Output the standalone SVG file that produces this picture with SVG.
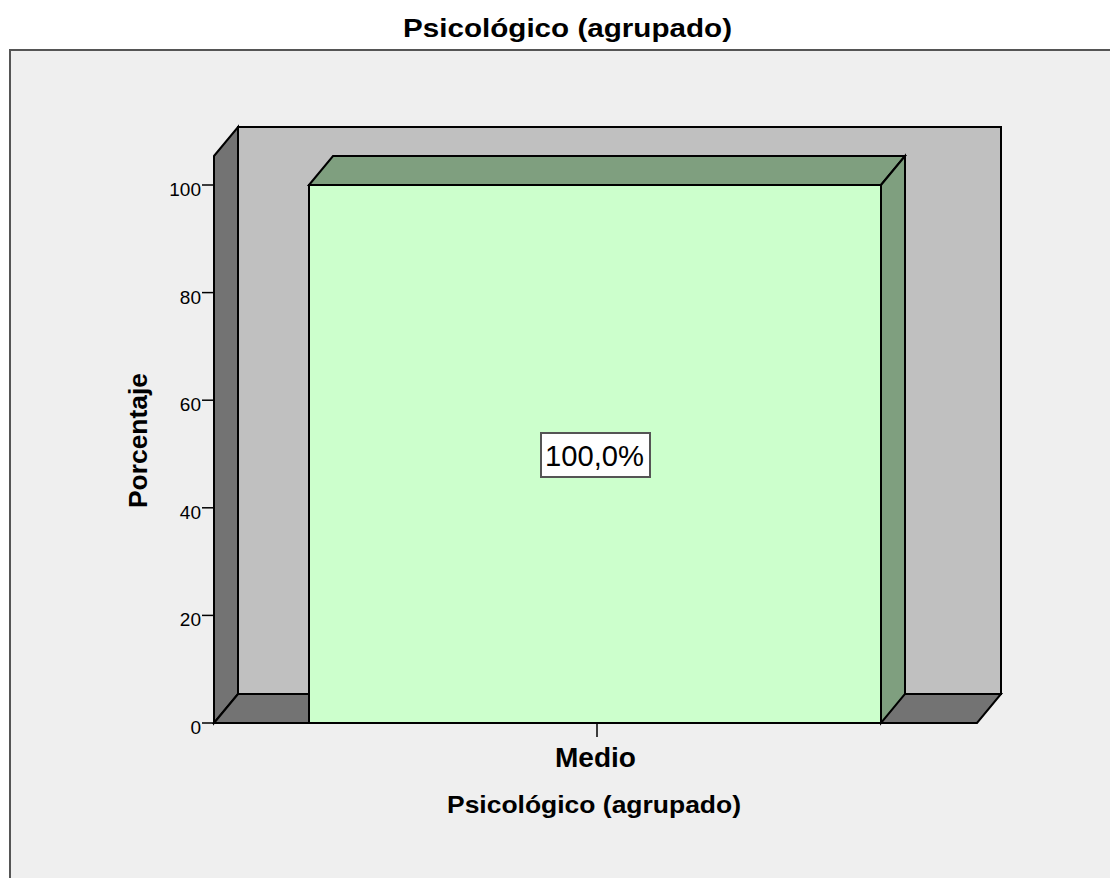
<svg xmlns="http://www.w3.org/2000/svg" width="1110" height="878" viewBox="0 0 1110 878">
<style>
.t{font-family:"Liberation Sans",Arial,sans-serif;fill:#000}
.b{font-weight:bold}
.e{stroke:#000;stroke-width:2;stroke-linejoin:miter}
.tick{stroke:#000;stroke-width:1.5}
</style>
<rect x="0" y="0" width="1110" height="878" fill="#fff"/>
<rect x="10" y="50" width="1110" height="840" fill="#efefef" stroke="#555" stroke-width="2"/>
<text class="t b" x="567.5" y="37" font-size="26.5" text-anchor="middle" textLength="329" lengthAdjust="spacingAndGlyphs">Psicológico (agrupado)</text>
<g id="walls">
<rect class="e" x="238" y="127" width="763" height="567" fill="#c0c0c0"/>
<polygon class="e" points="214,156 238,127 238,694 214,723" fill="#737373"/>
<polygon class="e" points="214,723 238,694 1001,694 977,723" fill="#737373"/>
</g>
<g id="bar">
<polygon class="e" points="309,185 333,156 905,156 881,185" fill="#7f9f7f"/>
<polygon class="e" points="881,185 905,156 905,694 881,723" fill="#7f9f7f"/>
<rect class="e" x="309" y="185" width="572" height="538" fill="#ccffcc"/>
<rect x="541" y="433" width="109" height="44" fill="#fff" stroke="#555" stroke-width="2"/>
<text class="t" x="594.5" y="466" font-size="29.5" text-anchor="middle" textLength="99" lengthAdjust="spacingAndGlyphs">100,0%</text>
</g>
<g id="yaxis">
<line class="tick" x1="202" y1="185" x2="214" y2="185"/>
<line class="tick" x1="202" y1="292.6" x2="214" y2="292.6"/>
<line class="tick" x1="202" y1="400.2" x2="214" y2="400.2"/>
<line class="tick" x1="202" y1="507.8" x2="214" y2="507.8"/>
<line class="tick" x1="202" y1="615.4" x2="214" y2="615.4"/>
<line class="tick" x1="202" y1="723" x2="214" y2="723"/>
<g class="t" font-size="19" text-anchor="end">
<text x="201" y="196">100</text>
<text x="201" y="303.6">80</text>
<text x="201" y="411.2">60</text>
<text x="201" y="518.8">40</text>
<text x="201" y="626.4">20</text>
<text x="201" y="734">0</text>
</g>
<text class="t b" transform="translate(146.5,440.5) rotate(-90)" font-size="26.5" text-anchor="middle" textLength="135" lengthAdjust="spacingAndGlyphs">Porcentaje</text>
</g>
<g id="xaxis">
<line class="tick" x1="597" y1="723" x2="597" y2="737"/>
<text class="t b" x="595.5" y="767" font-size="27" text-anchor="middle" textLength="81" lengthAdjust="spacingAndGlyphs">Medio</text>
<text class="t b" x="594" y="813" font-size="24.5" text-anchor="middle" textLength="294" lengthAdjust="spacingAndGlyphs">Psicológico (agrupado)</text>
</g>
</svg>
